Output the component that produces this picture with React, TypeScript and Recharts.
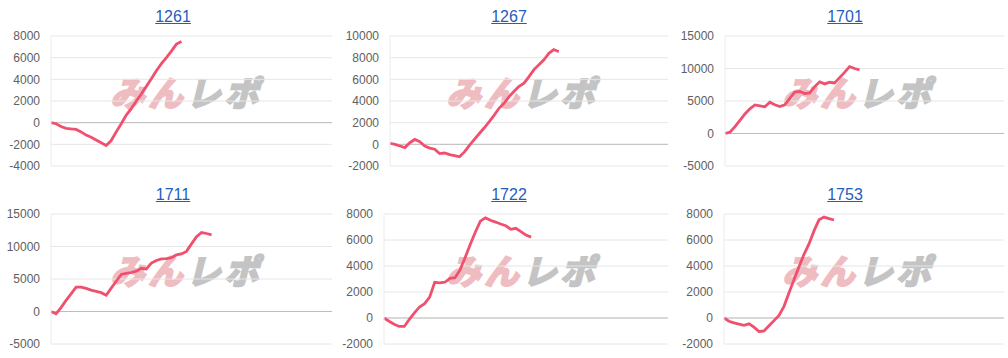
import React from "react";
import { LineChart, Line, XAxis, YAxis, CartesianGrid, ReferenceLine } from "recharts";

// machine numbers shown as panel titles
const titles = ["1261", "1267", "1701", "1711", "1722", "1753"];

// cumulative difference per sample
const s1261 = [0, -100, -350, -520, -580, -620, -850, -1150, -1350, -1600, -1850, -2100, -1650, -850, -100, 700, 1300, 2000, 2650, 3350, 4050, 4800, 5450, 6000, 6600, 7250, 7500];
const s1267 = [100, 0, -150, -300, 150, 450, 250, -150, -350, -450, -850, -800, -950, -1050, -1150, -700, -100, 450, 1000, 1530, 2100, 2700, 3350, 3800, 4400, 4900, 5350, 5650, 6250, 6900, 7350, 7800, 8400, 8750, 8550];
const s1701 = [0, 200, 1050, 2030, 3000, 3800, 4400, 4250, 4100, 4800, 4420, 4150, 4400, 5400, 6360, 6460, 6150, 6250, 7200, 7950, 7630, 7880, 7780, 8600, 9400, 10300, 10000, 9800];
const s1711 = [0, -350, 600, 1700, 2700, 3750, 3750, 3550, 3300, 3100, 2900, 2500, 3600, 4650, 5700, 5850, 6000, 6200, 6650, 6550, 7450, 7850, 8100, 8150, 8300, 8700, 8850, 9250, 10400, 11500, 12150, 12000, 11800];
const s1722 = [0, -250, -480, -650, -650, -100, 400, 850, 1100, 1600, 2750, 2700, 2750, 3050, 3100, 3700, 4650, 5650, 6600, 7450, 7700, 7520, 7380, 7230, 7100, 6820, 6900, 6650, 6380, 6220];
const s1753 = [0, -250, -380, -470, -560, -450, -700, -1050, -1000, -600, -200, 200, 900, 1950, 2950, 3950, 4900, 5700, 6700, 7550, 7760, 7640, 7540];

const series = [s1261, s1267, s1701, s1711, s1722, s1753];

// y tick labels per panel
const ticks1261 = [-4000, -2000, 0, 2000, 4000, 6000, 8000];
const ticks1267 = [-2000, 0, 2000, 4000, 6000, 8000, 10000];
const ticks1701 = [-5000, 0, 5000, 10000, 15000];
const ticks1711 = [-5000, 0, 5000, 10000, 15000];
const ticks1722 = [-2000, 0, 2000, 4000, 6000, 8000];
const ticks1753 = [-2000, 0, 2000, 4000, 6000, 8000];
const tickSets = [ticks1261, ticks1267, ticks1701, ticks1711, ticks1722, ticks1753];

const X_MAX = 56;
const CELL_W = 336;
const CELL_H = 178;
const axisWidths = [51, 54, 53, 51, 48, 52];
const LINE = "#f0506e";
const FONT = "'Liberation Sans', Arial, Helvetica, sans-serif";

function Panel({ idx }: { idx: number }) {
  const data = series[idx].map((v, i) => ({ x: i, v }));
  const ticks = tickSets[idx];
  const col = idx % 3;
  const row = Math.floor(idx / 3);
  return (
    <div style={{ position: "absolute", left: col * CELL_W, top: row * CELL_H, width: CELL_W, height: CELL_H }}>
      <div
        style={{
          position: "absolute",
          left: 5,
          top: 7,
          width: CELL_W,
          textAlign: "center",
          fontFamily: FONT,
          fontSize: 16,
          lineHeight: "20px",
          color: "#1f5dbf",
          textDecoration: "underline",
        }}
      >
        {titles[idx]}
      </div>
      {/* watermark logo */}
      <div
        style={{
          position: "absolute",
          left: 190 - 90,
          top: 93 - 23,
          width: 180,
          textAlign: "center",
          fontFamily: "'Noto Sans CJK JP', sans-serif",
          fontWeight: 700,
          fontSize: 34,
          lineHeight: "44px",
          letterSpacing: 4,
          transform: "skewX(-14deg)",
          whiteSpace: "nowrap",
        }}
      >
        <span style={{ color: "#efbcc1", WebkitTextStroke: "2.5px #efbcc1" }}>みん</span>
        <span style={{ color: "#c4c4c4", WebkitTextStroke: "2.5px #c4c4c4" }}>レポ</span>
      </div>
      <div style={{ position: "absolute", left: 0, top: 0 }}>
        <LineChart width={CELL_W} height={CELL_H} data={data} margin={{ top: 36, right: 4, bottom: 12, left: 0 }}>
          <CartesianGrid vertical={false} stroke="#e6e6e6" />
          <XAxis dataKey="x" type="number" domain={[0, X_MAX]} hide />
          <YAxis
            width={axisWidths[idx]}
            domain={[ticks[0], ticks[ticks.length - 1]]}
            ticks={ticks}
            interval={0}
            tickLine={false}
            axisLine={{ stroke: "#ececec" }}
            tickMargin={5}
            tick={{ fill: "#606060", fontSize: 12, fontFamily: FONT }}
          />
          <ReferenceLine y={0} stroke="#bdbdbd" />
          <Line
            type="linear"
            dataKey="v"
            stroke={LINE}
            strokeWidth={2.8}
            dot={false}
            isAnimationActive={false}
          />
        </LineChart>
      </div>
    </div>
  );
}

export default function App() {
  return (
    <div style={{ position: "absolute", left: 0, top: 0, width: 1008, height: 358, background: "#fff", overflow: "hidden" }}>
      {titles.map((_, i) => (
        <Panel key={i} idx={i} />
      ))}
    </div>
  );
}
